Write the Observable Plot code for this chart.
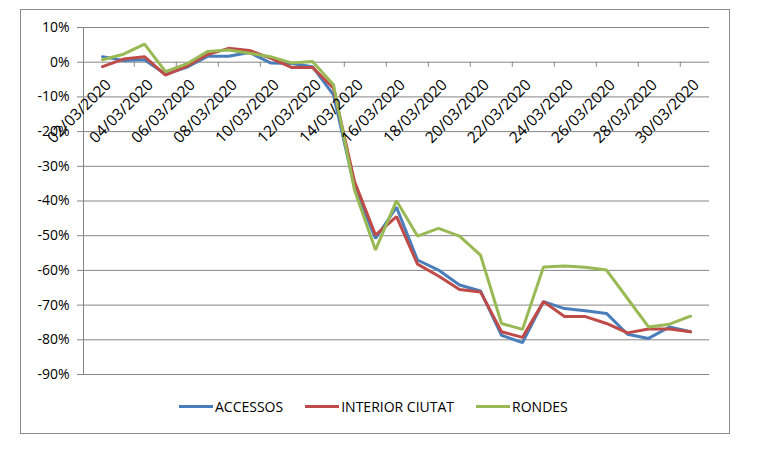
<!DOCTYPE html>
<html>
<head>
<meta charset="utf-8">
<script src="https://cdn.jsdelivr.net/npm/d3@7"></script>
<script src="https://cdn.jsdelivr.net/npm/@observablehq/plot@0.6"></script>
<style>
  body { margin: 0; background: #fff; }
  #wrap { position: relative; width: 775px; height: 455px; overflow: hidden; font-family: "Open Sans", sans-serif; }
  #frame { position: absolute; left: 20px; top: 9px; width: 708px; height: 423px; border: 1px solid #8a8a8a; pointer-events: none; }
  #legend { position: absolute; top: 397px; left: 179px; display: flex; gap: 22px; font-size: 14px; color: #000; }
  .item { display: flex; align-items: center; gap: 2px; }
  .sw { width: 34px; height: 3px; }
</style>
</head>
<body>
<div id="wrap">
  <div id="chart"></div>
  <div id="frame"></div>
  <div id="legend"></div>
</div>
<script>
const dates = [
  "02/03/2020","03/03/2020","04/03/2020","05/03/2020","06/03/2020","07/03/2020","08/03/2020",
  "09/03/2020","10/03/2020","11/03/2020","12/03/2020","13/03/2020","14/03/2020","15/03/2020",
  "16/03/2020","17/03/2020","18/03/2020","19/03/2020","20/03/2020","21/03/2020","22/03/2020",
  "23/03/2020","24/03/2020","25/03/2020","26/03/2020","27/03/2020","28/03/2020","29/03/2020",
  "30/03/2020"
];
const seriesNames = ["ACCESSOS", "INTERIOR CIUTAT", "RONDES"];
const seriesColors = ["#4A7EBB", "#BE4B48", "#98B954"];
const accessos = [1.6, 0.5, 0.7, -3.5, -1.5, 1.7, 1.7, 2.8, -0.2, -0.4, -1.3, -9.4, -36, -50.8, -41.8,
  -57, -59.9, -64.2, -65.9, -78.7, -80.8, -69, -71, -71.6, -72.4, -78.4, -79.6, -76.3, -77.7];
const interior = [-1.3, 0.9, 1.6, -3.7, -1.2, 2.2, 4.0, 3.4, 1.2, -1.5, -1.5, -7.5, -34.4, -49.8, -44.5,
  -58.2, -61.6, -65.5, -66.2, -77.7, -79.3, -69, -73.3, -73.3, -75.3, -78, -76.9, -76.9, -77.7];
const rondes = [0.7, 2.3, 5.2, -2.7, -0.5, 3.1, 3.5, 2.6, 1.6, -0.2, 0.2, -6.5, -36.8, -54.1, -39.9,
  -50.1, -47.9, -50.1, -55.6, -75.3, -77, -59, -58.7, -59.1, -59.9, -68.1, -76.3, -75.5, -73.2];
const yTicks = [10, 0, -10, -20, -30, -40, -50, -60, -70, -80, -90];

const seriesValues = [accessos, interior, rondes];
const rows = [];
seriesNames.forEach((s, k) => seriesValues[k].forEach((v, i) => rows.push({series: s, date: dates[i], value: v})));

const labelDates = dates.filter((d, i) => i % 2 === 0);
const tickDates = dates.filter((d, i) => i % 2 === 1);

const W = 775, H = 455, mL = 83, mR = 66, mT = 27, mB = 81;
const step = (W - mL - mR) / dates.length;
const grid = "#868686";

const chart = Plot.plot({
  width: W, height: H,
  marginLeft: mL, marginRight: mR, marginTop: mT, marginBottom: mB,
  style: {fontFamily: "Open Sans, sans-serif", fontSize: "14px", color: "#000", background: "white"},
  x: {type: "point", domain: dates, padding: 0.5, axis: null},
  y: {domain: [-90, 10], axis: null},
  color: {domain: seriesNames, range: seriesColors},
  marks: [
    Plot.ruleY(yTicks, {stroke: grid}),
    Plot.frame({anchor: "left", stroke: grid}),
    Plot.axisY({ticks: yTicks, tickFormat: d => Math.round(d) + "%", tickSize: 6, tickPadding: 8,
      label: null, stroke: grid, fill: "#000", fontSize: 14}),
    Plot.ruleX(tickDates, {x: d => d, y1: 0, y2: 0, insetBottom: -5, dx: step / 2, stroke: grid}),
    Plot.line(rows, {x: "date", y: "value", z: "series", stroke: "series", strokeWidth: 3, strokeLinejoin: "miter"}),
    Plot.text(labelDates, {x: d => d, y: 0, text: d => d, rotate: -45, textAnchor: "end", dx: 6, dy: 20, fontSize: 15.5, fill: "#000"})
  ]
});
document.getElementById("chart").appendChild(chart);

const legend = document.getElementById("legend");
seriesNames.forEach((s, k) => {
  const it = document.createElement("div");
  it.className = "item";
  const sw = document.createElement("div");
  sw.className = "sw";
  sw.style.background = seriesColors[k];
  const t = document.createElement("span");
  t.textContent = s;
  it.appendChild(sw); it.appendChild(t);
  legend.appendChild(it);
});
</script>
</body>
</html>
